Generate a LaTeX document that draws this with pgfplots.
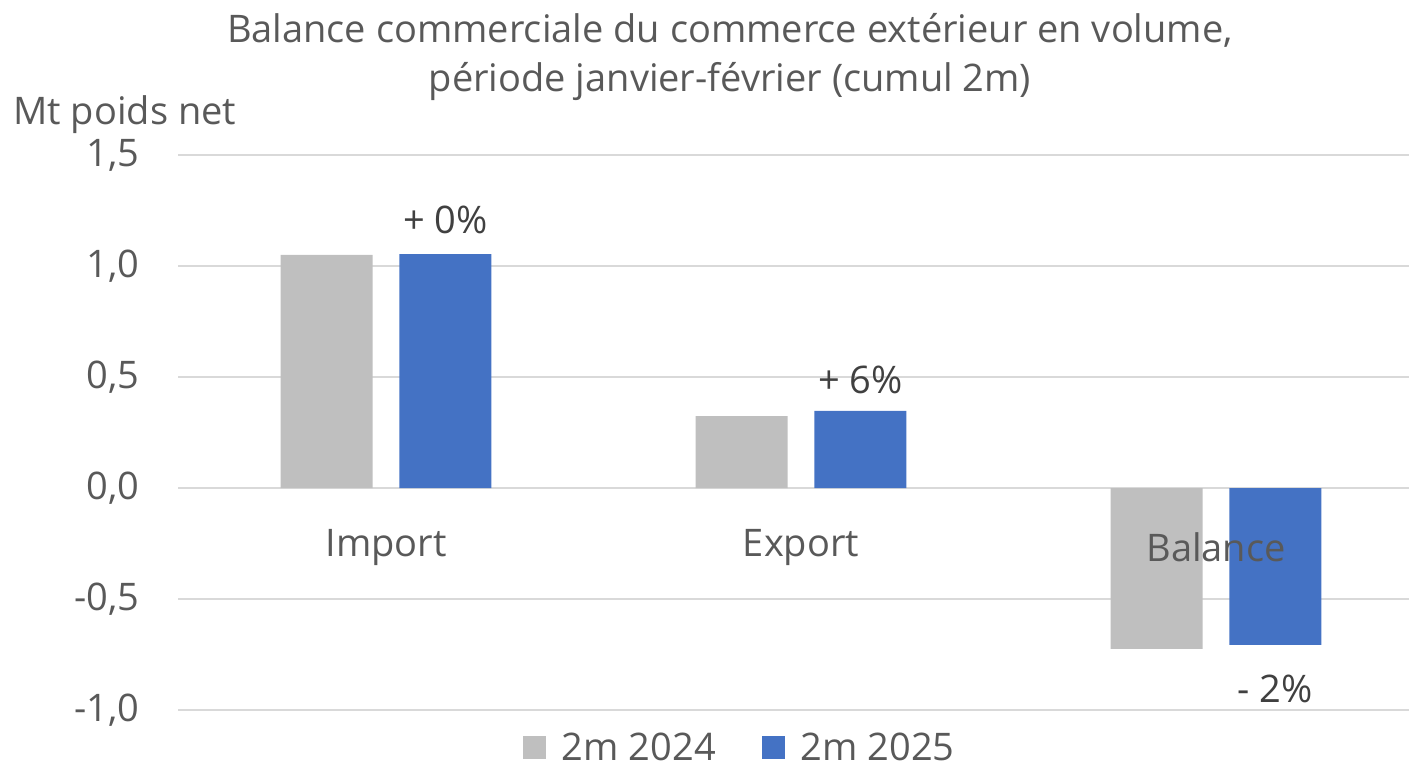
\documentclass[border=0pt]{standalone}
\usepackage{fontspec}
\setmainfont{Open Sans}
\usepackage{pgfplots}
\pgfplotsset{compat=1.18}
\definecolor{barGray}{HTML}{BFBFBF}
\definecolor{barBlue}{HTML}{4472C4}
\definecolor{txtGray}{HTML}{595959}
\definecolor{lblGray}{HTML}{404040}
\definecolor{gridGray}{HTML}{D9D9D9}
\newcommand{\fs}{\fontsize{19}{22.8}\selectfont}

\begin{document}
\begin{tikzpicture}
% 1px of the reference = 0.5pt; axis south-west at (178.5px, 710px)
\useasboundingbox (-89.25pt,-29pt) rectangle (615.25pt,355pt);
\begin{axis}[
    at={(0pt,0pt)}, anchor=south west,
    scale only axis,
    width=615.25pt, height=277.5pt,
    xmin=-0.5, xmax=2.465,
    ymin=-1, ymax=1.5,
    ytick={-1,-0.5,0,0.5,1,1.5},
    xtick=\empty,
    axis line style={draw=none},
    major tick length=0pt,
    ymajorgrids,
    grid style={gridGray, line width=1pt},
    ybar, bar width=0.222,
    /pgf/number format/assume math mode=true,
    yticklabel style={/pgf/number format/.cd, fixed, fixed zerofill, precision=1, use comma,
        /tikz/.cd, font=\fs, text=txtGray, xshift=-16pt},
    legend columns=2,
    legend style={draw=none, fill=none, font=\fs, text=txtGray, inner sep=1pt,
        at={(0.457,-0.068)}, anchor=center,
        /tikz/every even column/.append style={column sep=21pt},
        /tikz/every odd column/.append style={column sep=6pt}},
    legend image code/.code={\fill[#1] (0pt,-5.75pt) rectangle (11.5pt,5.75pt);},
    clip=false,
]
\addplot[fill=barGray, draw=none, bar shift=-0.143] coordinates {(0,1.050) (1,0.324) (2,-0.725)};
\addplot[fill=barBlue, draw=none, bar shift=0.143] coordinates {(0,1.054) (1,0.347) (2,-0.707)};
\legend{2m 2024, 2m 2025}

\node[font=\fs, text=txtGray] at (axis cs:0,-0.266) {Import};
\node[font=\fs, text=txtGray] at (axis cs:1,-0.266) {Export};
\node[font=\fs, text=txtGray] at (axis cs:2,-0.266) {Balance};

\node[font=\fs, text=lblGray] at (axis cs:0.143,1.207) {+ 0\%};
\node[font=\fs, text=lblGray] at (axis cs:1.143,0.486) {+ 6\%};
\node[font=\fs, text=lblGray] at (axis cs:2.143,-0.905) {- 2\%};
\end{axis}
\node[font=\fs, text=txtGray, anchor=west, inner sep=0pt] at (-82.75pt,297.5pt) {Mt poids net};
\node[font=\fs, text=txtGray, align=center, inner sep=0pt] at (275.75pt,326.5pt)
    {Balance commerciale du commerce extérieur en volume,\\[2pt]période janvier-février (cumul 2m)};
\end{tikzpicture}
\end{document}
